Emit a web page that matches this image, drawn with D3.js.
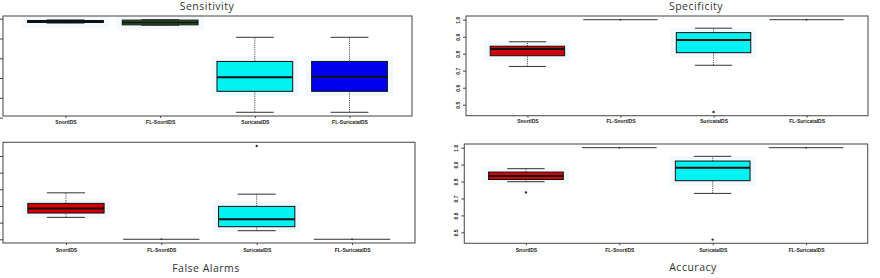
<!DOCTYPE html>
<html><head><meta charset="utf-8">
<script src="https://cdn.jsdelivr.net/npm/d3@7"></script>
<style>
html,body{margin:0;padding:0;background:#fff;}
svg{display:block;}
</style></head>
<body>
<script>
// ---------- data ----------
const categories = ["SnortIDS", "FL-SnortIDS", "SuricataIDS", "FL-SuricataIDS"];
const panelTitles = ["Sensitivity", "Specificity", "False Alarms", "Accuracy"];
// [lowerWhisker, q1, median, q3, upperWhisker]
const sensitivityStats = [
  [0.978, 0.981, 0.986, 0.991, 0.994],
  [0.967, 0.969, 0.981, 0.993, 0.995],
  [0.527, 0.633, 0.704, 0.784, 0.906],
  [0.527, 0.633, 0.707, 0.784, 0.906]
];
const sensitivityOutliers = [[], [], [], []];
const specificityStats = [
  [0.725, 0.788, 0.828, 0.844, 0.870],
  [1.0, 1.0, 1.0, 1.0, 1.0],
  [0.732, 0.806, 0.880, 0.924, 0.950],
  [1.0, 1.0, 1.0, 1.0, 1.0]
];
const specificityOutliers = [[], [], [0.457], []];
const falseAlarmStats = [
  [0.0263, 0.0315, 0.0371, 0.0431, 0.0558],
  [0, 0, 0, 0, 0],
  [0.0103, 0.0151, 0.0240, 0.0395, 0.0542],
  [0, 0, 0, 0, 0]
];
const falseAlarmOutliers = [[], [], [0.112], []];
const accuracyStats = [
  [0.799, 0.812, 0.832, 0.856, 0.876],
  [1.0, 1.0, 1.0, 1.0, 1.0],
  [0.730, 0.805, 0.882, 0.921, 0.949],
  [1.0, 1.0, 1.0, 1.0, 1.0]
];
const accuracyOutliers = [[0.736], [], [0.457], []];
const rateTicks = [0.5, 0.6, 0.7, 0.8, 0.9, 1.0];
const rateTickLabels = ["0.5", "0.6", "0.7", "0.8", "0.9", "1.0"];
const falseAlarmTicks = [0, 0.02, 0.04, 0.06, 0.08, 0.10];

// ---------- styles ----------
const sensitivityColors = ["#d40000", "#2f6e2a", "#00f2f2", "#0000ee"];
const otherColors = ["#d40000", "#2f6e2a", "#00f2f2", "#0000ee"];

const W = 880, H = 278;
const svg = d3.select("body").append("svg").attr("width", W).attr("height", H);

const panels = [
  {stats: sensitivityStats, out: sensitivityOutliers, colors: sensitivityColors, ticks: rateTicks, labels: null,
   rect: [3, 16, 412, 116], title: panelTitles[0], tx: 207, ty: 9.5, caty: 124},
  {stats: specificityStats, out: specificityOutliers, colors: otherColors, ticks: rateTicks, labels: rateTickLabels,
   rect: [466, 16, 868, 115.7], title: panelTitles[1], tx: 696, ty: 9.5, caty: 123.5},
  {stats: falseAlarmStats, out: falseAlarmOutliers, colors: otherColors, ticks: falseAlarmTicks, labels: null,
   rect: [3, 142.3, 415, 243], title: panelTitles[2], tx: 206, ty: 271.5, caty: 251.5},
  {stats: accuracyStats, out: accuracyOutliers, colors: otherColors, ticks: rateTicks, labels: rateTickLabels,
   rect: [464.3, 144, 867.7, 243.3], title: panelTitles[3], tx: 693, ty: 270.5, caty: 252}
];

panels.forEach(p => {
  const [x0, y0, x1, y1] = p.rect;
  const g = svg.append("g");
  // R-style domains with 4% extension
  let lo = d3.min(p.stats, s => s[0]), hi = d3.max(p.stats, s => s[4]);
  p.out.forEach(o => o.forEach(v => { lo = Math.min(lo, v); hi = Math.max(hi, v); }));
  const r = hi - lo;
  const y = d3.scaleLinear().domain([lo - 0.04 * r, hi + 0.04 * r]).range([y1, y0]);
  const x = d3.scaleLinear().domain([0.5 - 0.16, 4.5 + 0.16]).range([x0, x1]);
  const bw = x(1.4) - x(1.0); // half box width (0.4)
  const cw = x(1.2) - x(1.0); // half cap width

  // halos
  p.stats.forEach((s, i) => {
    if (s[3] - s[1] < 1e-6) return;
    const cx = x(i + 1);
    g.append("rect")
      .attr("x", cx - bw - 6).attr("y", y(s[3]) - 5)
      .attr("width", 2 * bw + 12).attr("height", y(s[1]) - y(s[3]) + 10)
      .attr("fill", "#eef7fb").attr("opacity", 0.7);
  });

  p.stats.forEach((s, i) => {
    const cx = x(i + 1);
    const col = p.colors[i];
    if (s[4] - s[0] < 1e-6) {
      g.append("line").attr("x1", cx - bw).attr("x2", cx + bw)
        .attr("y1", y(s[2])).attr("y2", y(s[2]))
        .attr("stroke", "#333").attr("stroke-width", 1);
      g.append("circle").attr("cx", cx).attr("cy", y(s[2])).attr("r", 0.9).attr("fill", "#333");
      return;
    }
    // whiskers
    [[s[0], s[1]], [s[3], s[4]]].forEach(([a, b]) => {
      g.append("line").attr("x1", cx).attr("x2", cx).attr("y1", y(a)).attr("y2", y(b))
        .attr("stroke", "#444").attr("stroke-width", 0.9).attr("stroke-dasharray", "1.2,1");
    });
    [s[0], s[4]].forEach(v => {
      g.append("line").attr("x1", cx - cw).attr("x2", cx + cw).attr("y1", y(v)).attr("y2", y(v))
        .attr("stroke", "#333").attr("stroke-width", 1);
    });
    // box
    g.append("rect").attr("x", cx - bw).attr("y", y(s[3]))
      .attr("width", 2 * bw).attr("height", Math.max(0.5, y(s[1]) - y(s[3])))
      .attr("fill", col).attr("stroke", "#111").attr("stroke-width", 1);
    g.append("line").attr("x1", cx - bw).attr("x2", cx + bw).attr("y1", y(s[2])).attr("y2", y(s[2]))
      .attr("stroke", "#111").attr("stroke-width", 2);
  });

  // outliers
  p.out.forEach((o, i) => o.forEach(v => {
    g.append("circle").attr("cx", x(i + 1)).attr("cy", y(v)).attr("r", 1.2).attr("fill", "#333");
  }));

  // frame
  g.append("rect").attr("x", x0).attr("y", y0).attr("width", x1 - x0).attr("height", y1 - y0)
    .attr("fill", "none").attr("stroke", "#555").attr("stroke-width", 1.1);

  // y axis
  const ya = d3.axisLeft(y).tickValues(p.ticks).tickSize(3).tickPadding(3)
    .tickFormat((d, i) => p.labels ? p.labels[i] : "");
  const ag = g.append("g").attr("transform", `translate(${x0},0)`).call(ya);
  ag.select(".domain").remove();
  ag.selectAll(".tick line").attr("stroke", "#444");
  ag.selectAll(".tick text")
    .attr("transform", "rotate(-90)")
    .attr("x", 0).attr("dy", 0)
    .attr("y", -6.5)
    .attr("text-anchor", "middle")
    .attr("font-family", "Liberation Sans, Arial, sans-serif")
    .attr("font-weight", "bold").attr("font-size", 5).attr("fill", "#222");

  // x axis
  const xa = d3.axisBottom(x).tickValues([1, 2, 3, 4]).tickSize(2).tickPadding(2)
    .tickFormat((d, i) => categories[i]);
  const xg = g.append("g").attr("transform", `translate(0,${y1})`).call(xa);
  xg.select(".domain").remove();
  xg.selectAll(".tick line").attr("stroke", "#444");
  xg.selectAll(".tick text").attr("y", p.caty - y1).attr("dy", 0)
    .attr("font-family", "Liberation Sans, Arial, sans-serif")
    .attr("font-weight", "bold").attr("font-size", 5).attr("fill", "#222");

  // title
  svg.append("text").attr("x", p.tx).attr("y", p.ty).attr("text-anchor", "middle")
    .attr("font-family", "Open Sans, sans-serif").attr("font-size", 10.5)
    .attr("letter-spacing", 0.5).attr("fill", "#333")
    .text(p.title);
});
</script>
</body></html>
